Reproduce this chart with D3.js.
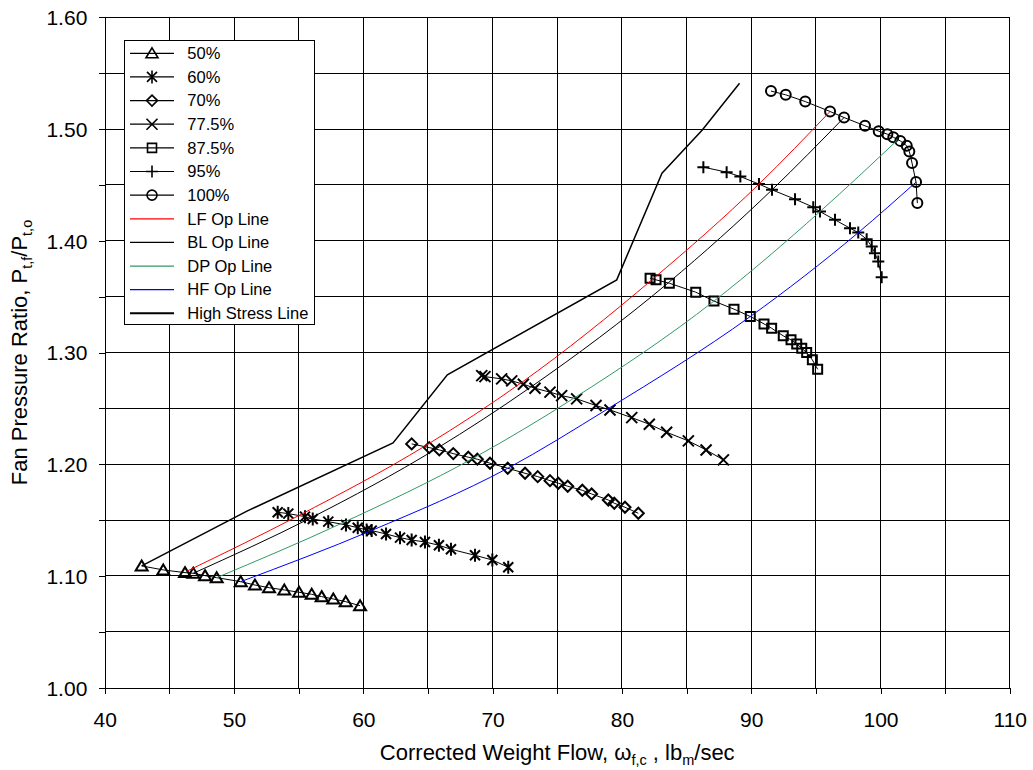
<!DOCTYPE html>
<html><head><meta charset="utf-8">
<script src="https://cdn.jsdelivr.net/npm/d3@7"></script>
<style>body{margin:0;background:#fff}svg{display:block;font-family:"Liberation Sans",Arial,sans-serif}</style>
</head><body><svg id="chart" width="1033" height="770"></svg>
<script>
// ---- data ----
const s50x = [42.86,44.53,46.21,46.85,47.76,48.66,50.52,51.62,52.71,53.89,55.03,56.01,56.78,57.68,58.64,59.75];
const s50y = [1.109,1.1054,1.103,1.1024,1.1003,1.0985,1.0949,1.0919,1.0895,1.0875,1.0854,1.0836,1.0815,1.0794,1.077,1.0734];
const s60x = [53.38,54.20,55.49,56.09,57.29,58.66,59.57,60.26,60.65,61.76,62.84,63.74,64.77,65.85,66.78,68.64,69.98,71.21];
const s60y = [1.157,1.1558,1.1531,1.151,1.1486,1.1457,1.1432,1.1412,1.1406,1.1376,1.1343,1.1322,1.1304,1.1275,1.1239,1.1185,1.1143,1.1078];
const s70x = [63.74,65.10,65.88,66.96,68.12,68.82,69.80,71.17,72.51,73.49,74.44,75.08,75.81,76.94,77.66,78.95,79.41,80.24,81.27];
const s70y = [1.2182,1.2149,1.2128,1.2095,1.2063,1.2045,1.2009,1.1964,1.1919,1.1889,1.1853,1.183,1.1803,1.1767,1.1734,1.168,1.1651,1.1615,1.1561];
const s775x = [69.16,69.41,70.70,71.48,72.38,73.28,74.44,75.34,76.50,78.00,79.08,80.76,82.12,83.46,85.14,86.51,87.85];
const s775y = [1.2793,1.2784,1.2764,1.2746,1.2716,1.268,1.2645,1.2614,1.2585,1.2525,1.2486,1.2417,1.2358,1.2286,1.2209,1.2128,1.2039];
const s875x = [82.18,82.64,83.67,85.71,87.12,88.67,89.93,90.99,91.58,92.48,93.08,93.52,93.91,94.29,94.73,95.14];
const s875y = [1.3665,1.365,1.362,1.354,1.346,1.3388,1.3322,1.3256,1.3217,1.3149,1.3113,1.3077,1.3038,1.2999,1.2934,1.285];
const s95x = [86.30,88.10,89.16,90.60,91.61,93.39,94.80,95.32,96.48,97.64,98.28,98.93,99.32,99.57,99.83,100.09];
const s95y = [1.4659,1.4614,1.4575,1.4507,1.4456,1.4372,1.4301,1.4261,1.4187,1.4113,1.4073,1.4014,1.3948,1.3889,1.3814,1.3674];
const s100x = [91.53,92.67,94.18,96.10,97.18,98.80,99.86,100.53,100.99,101.53,102.03,102.23,102.44,102.75,102.85];
const s100y = [1.534,1.5306,1.5246,1.5157,1.5103,1.5029,1.4981,1.4954,1.4927,1.4894,1.485,1.4799,1.4695,1.4525,1.4337];

const lfX = [46.29,55.0,64.8,72.2,82.4,90.6,96.1];
const lfY = [1.1039,1.154,1.2165,1.2728,1.3658,1.4507,1.5157];
const blX = [46.85,55.9,65.6,72.95,83.6,91.61,97.18];
const blY = [1.1024,1.1517,1.2135,1.269,1.3625,1.4456,1.5103];
const dpX = [48.66,58.3,68.5,76.3,87.12,95.32,101.3];
const dpY = [1.0985,1.147,1.2054,1.2592,1.346,1.4261,1.490];
const hfX = [50.52,60.6,71.17,78.9,89.93,98.28,102.75];
const hfY = [1.0949,1.1405,1.1964,1.2495,1.3322,1.4073,1.4525];
const hsX = [42.86,51.0,62.3,66.5,79.6,83.1,86.2,89.1];
const hsY = [1.109,1.158,1.219,1.280,1.365,1.4605,1.499,1.541];

const xTicks = [40,50,60,70,80,90,100,110];
const yTicks = [1.00,1.10,1.20,1.30,1.40,1.50,1.60];

const speedNames = ["50%","60%","70%","77.5%","87.5%","95%","100%"];
const opNames = ["LF Op Line","BL Op Line","DP Op Line","HF Op Line","High Stress Line"];

// ---- setup ----
const svg = d3.select("#chart");
svg.append("rect").attr("width",1033).attr("height",770).attr("fill","#fff");
const L=104.7, R=1009.8, T=17.3, B=687.7;
const x = d3.scaleLinear().domain([40,110]).range([L,R]);
const y = d3.scaleLinear().domain([1.0,1.6]).range([B,T]);
const zip = (a,b)=>a.map((v,i)=>[v,b[i]]);

// gridlines
const gx = d3.range(45,110.01,5), gy = d3.range(1.05,1.601,0.05);
svg.append("g").selectAll("line").data(gx).join("line")
  .attr("x1",d=>x(d)).attr("x2",d=>x(d)).attr("y1",T).attr("y2",B)
  .attr("stroke","#000").attr("stroke-width",1).attr("shape-rendering","crispEdges");
svg.append("g").selectAll("line").data(gy).join("line")
  .attr("x1",L).attr("x2",R).attr("y1",d=>y(d)).attr("y2",d=>y(d))
  .attr("stroke","#000").attr("stroke-width",1).attr("shape-rendering","crispEdges");

// axes
const xAxis = d3.axisBottom(x).tickValues(d3.range(40,110.01,5)).tickSize(6)
  .tickFormat(d=> xTicks.includes(Math.round(d)) ? d3.format("d")(d) : "");
const gxA = svg.append("g").attr("transform",`translate(0,${B})`).call(xAxis);
gxA.selectAll("text").attr("y",39.3).attr("dy",0).attr("font-size",21).attr("fill","#000")
  .attr("font-family",'"Liberation Sans",Arial,sans-serif');
const yAxis = d3.axisLeft(y).tickValues(d3.range(1.0,1.601,0.05)).tickSize(6)
  .tickFormat(d=> yTicks.some(t=>Math.abs(t-d)<1e-6) ? d3.format(".2f")(d) : "");
const gyA = svg.append("g").attr("transform",`translate(${L},0)`).call(yAxis);
gyA.selectAll("text").attr("x",-17.4).attr("dy","0.35em").attr("font-size",21).attr("fill","#000")
  .attr("font-family",'"Liberation Sans",Arial,sans-serif');
[gxA,gyA].forEach(g=>{g.selectAll("path,line").attr("stroke","#000").attr("stroke-width",1).attr("shape-rendering","crispEdges");});

// markers
const M = {
  tri:"M0,-5.5L6,4.5L-6,4.5Z",
  star:"M-5,-5L5,5M-5,5L5,-5M0,-6.5L0,6.5",
  dia:"M0,-5.5L5.5,0L0,5.5L-5.5,0Z",
  x:"M-5.5,-5.5L5.5,5.5M-5.5,5.5L5.5,-5.5",
  sq:"M-4.5,-4.5L4.5,-4.5L4.5,4.5L-4.5,4.5Z",
  plus:"M-6,0L6,0M0,-6L0,6",
  circ:"M5,0A5,5 0 1,1 -5,0A5,5 0 1,1 5,0Z"
};
const speeds = [
  [s50x,s50y,"tri"],[s60x,s60y,"star"],[s70x,s70y,"dia"],[s775x,s775y,"x"],
  [s875x,s875y,"sq"],[s95x,s95y,"plus"],[s100x,s100y,"circ"]
];
const line = d3.line().x(d=>x(d[0])).y(d=>y(d[1]));
speeds.forEach(([xs,ys,m])=>{
  const pts = zip(xs,ys);
  svg.append("path").attr("d",line(pts)).attr("fill","none").attr("stroke","#000").attr("stroke-width",1);
  svg.append("g").selectAll("path").data(pts).join("path")
    .attr("transform",d=>`translate(${x(d[0])},${y(d[1])})`).attr("d",M[m])
    .attr("fill","none").attr("stroke","#000").attr("stroke-width",2);
});

// op lines
const ops = [[lfX,lfY,"#ff0000",1,true],[blX,blY,"#000000",1,true],[dpX,dpY,"#339966",1,true],
             [hfX,hfY,"#0000ff",1,true],[hsX,hsY,"#000000",1.5,false]];
ops.forEach(([xs,ys,c,w,smooth])=>{
  const gen = d3.line().x(d=>x(d[0])).y(d=>y(d[1])).curve(smooth?d3.curveMonotoneX:d3.curveLinear);
  svg.append("path").attr("d",gen(zip(xs,ys))).attr("fill","none").attr("stroke",c).attr("stroke-width",w);
});

// plot border top/right
svg.append("line").attr("x1",L).attr("x2",R).attr("y1",T).attr("y2",T).attr("stroke","#000").attr("shape-rendering","crispEdges");
svg.append("line").attr("x1",R).attr("x2",R).attr("y1",T).attr("y2",B).attr("stroke","#000").attr("shape-rendering","crispEdges");

// legend
const lg = svg.append("g");
lg.append("rect").attr("x",124.5).attr("y",40.5).attr("width",190).attr("height",284)
  .attr("fill","#fff").attr("stroke","#000").attr("stroke-width",1);
const rows = speeds.map((s,i)=>({name:speedNames[i],marker:s[2],color:"#000",w:1}))
  .concat(ops.map((o,i)=>({name:opNames[i],marker:null,color:o[2],w:o[3]})));
rows.forEach((r,i)=>{
  const yy = 53.3 + i*23.64;
  lg.append("line").attr("x1",130).attr("x2",174).attr("y1",yy).attr("y2",yy)
    .attr("stroke",r.color).attr("stroke-width",r.marker? 1.2 : (r.w>1?2:1.3));
  if(r.marker) lg.append("path").attr("transform",`translate(152,${yy})`).attr("d",M[r.marker])
    .attr("fill","none").attr("stroke","#000").attr("stroke-width",1.6);
  lg.append("text").attr("x",187.3).attr("y",yy).attr("dy","0.35em").attr("font-size",16.5).text(r.name);
});

// axis titles
const xt = svg.append("text").attr("x",(L+R)/2).attr("y",760).attr("text-anchor","middle").attr("font-size",22);
xt.append("tspan").text("Corrected Weight Flow, ω");
xt.append("tspan").attr("font-size",14.5).attr("dy",5).text("f,c");
xt.append("tspan").attr("dy",-5).text(" , lb");
xt.append("tspan").attr("font-size",14.5).attr("dy",5).text("m");
xt.append("tspan").attr("dy",-5).text("/sec");

const yt = svg.append("text").attr("transform",`translate(27,${(T+B)/2}) rotate(-90)`).attr("text-anchor","middle").attr("font-size",22);
yt.append("tspan").text("Fan Pressure Ratio, P");
yt.append("tspan").attr("font-size",14.5).attr("dy",5).text("t,f");
yt.append("tspan").attr("dy",-5).text("/P");
yt.append("tspan").attr("font-size",14.5).attr("dy",5).text("t,o");
</script></body></html>
